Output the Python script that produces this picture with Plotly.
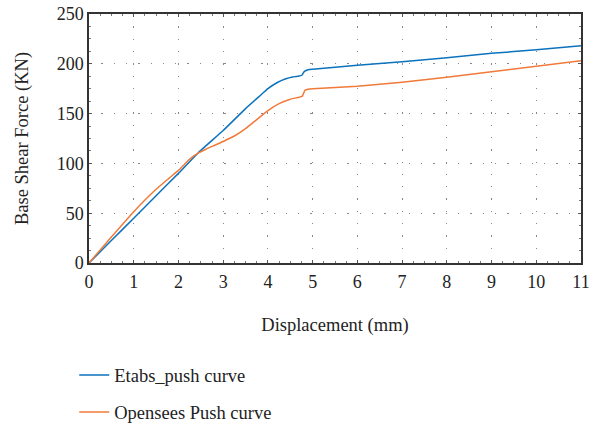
import plotly.graph_objects as go

# Pushover curves: displacement (mm) vs base shear force (kN)
etabs_disp = [0, 0.5, 1, 1.5, 2, 2.45, 3, 3.5, 3.8, 4.0, 4.2, 4.4, 4.55, 4.7, 4.76, 4.8, 4.84, 4.9, 5, 6, 7, 8, 9, 10, 11]
etabs_shear = [0, 22.5, 45, 67.5, 90, 111, 133, 155, 167, 175, 181, 185, 186.8, 187.8, 188.5, 191.5, 193, 194, 194.5, 198.5, 202, 206, 210.5, 214, 218]

opensees_disp = [0, 0.5, 1, 1.5, 1.8, 2, 2.1, 2.2, 2.3, 2.45, 2.6, 2.8, 3, 3.25, 3.5, 3.75, 4, 4.25, 4.5, 4.7, 4.77, 4.8, 4.83, 4.9, 5, 6, 7, 8, 9, 10, 11]
opensees_shear = [0, 26, 51.5, 74, 85.5, 93, 97.5, 102, 106, 110.5, 114, 118, 122, 127.5, 135, 144, 153, 160, 164.5, 166.5, 167.5, 170.5, 173.5, 174.5, 175, 177.5, 181.5, 186.5, 192, 197.5, 203]

x_ticks = list(range(0, 12))
y_ticks = [0, 50, 100, 150, 200, 250]

FONT = "Liberation Serif"

fig = go.Figure()
fig.add_trace(go.Scatter(
    x=etabs_disp, y=etabs_shear, mode="lines", name="Etabs_push curve",
    legendgroup="a", line=dict(color="#0b72bd", width=1.5, shape="spline", smoothing=0.3),
))
fig.add_trace(go.Scatter(
    x=opensees_disp, y=opensees_shear, mode="lines", name="Opensees Push curve",
    legendgroup="b", line=dict(color="#f07a3a", width=1.5, shape="spline", smoothing=0.4),
))

axis_common = dict(
    showline=True, linecolor="#333333", linewidth=1.5, mirror="ticks",
    ticks="inside", ticklen=3, tickcolor="#555555",
    showgrid=True, gridcolor="#888888", gridwidth=1.3, griddash="1.3px,11px",
    zeroline=False,
    tickfont=dict(family=FONT, size=18, color="#222222"),
)

fig.update_xaxes(
    range=[0, 11], tickvals=x_ticks,
    minor=dict(dtick=0.25, ticks="inside", ticklen=2, tickcolor="#777777", showgrid=False),
    title=dict(text="Displacement (mm)", font=dict(family=FONT, size=18.5, color="#222222"), standoff=27),
    ticklabelstandoff=2,
    **axis_common,
)
fig.update_yaxes(
    range=[0, 250], tickvals=y_ticks,
    minor=dict(dtick=12.5, ticks="inside", ticklen=2, tickcolor="#777777", showgrid=False),
    title=dict(text="Base Shear Force (KN)", font=dict(family=FONT, size=18.5, color="#222222"), standoff=23),
    **axis_common,
)

fig.update_layout(
    width=600, height=426,
    margin=dict(l=89, r=19, t=14, b=163, autoexpand=False),
    paper_bgcolor="white", plot_bgcolor="white",
    font=dict(family=FONT, size=18, color="#222222"),
    legend=dict(
        x=-0.03, xanchor="left", y=-0.375, yanchor="top",
        orientation="v", traceorder="grouped", tracegroupgap=10,
        font=dict(family=FONT, size=18.5, color="#222222"),
        bgcolor="rgba(0,0,0,0)",
    ),
    showlegend=True,
)

fig.write_html("out.html")
